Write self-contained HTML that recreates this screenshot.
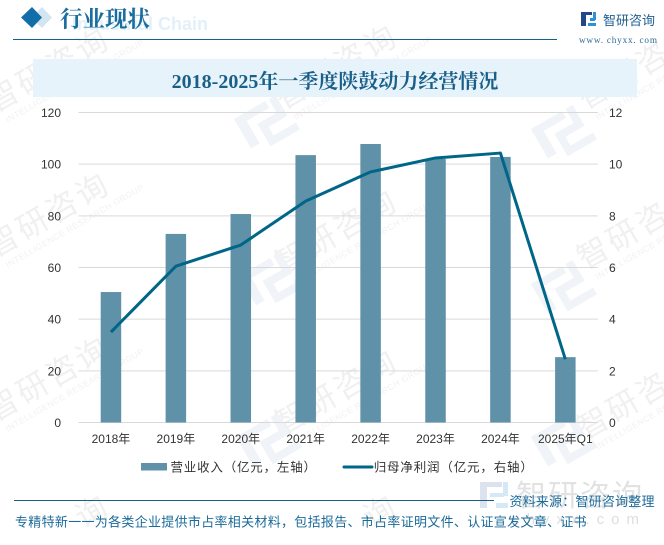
<!DOCTYPE html>
<html lang="zh">
<head>
<meta charset="utf-8">
<title>2018-2025年一季度陕鼓动力经营情况</title>
<style>
html,body{margin:0;padding:0;background:#fff;width:664px;height:545px;overflow:hidden;}
#page{position:relative;width:664px;height:545px;overflow:hidden;background:#fff;}
svg{position:absolute;left:0;top:0;overflow:hidden;}
.cn{font-family:"Liberation Sans","WenQuanYi Zen Hei","Noto Sans CJK SC",sans-serif;}
.serif{font-family:"Liberation Serif","Noto Serif CJK SC",serif;}
.tick{font-family:"Liberation Sans","WenQuanYi Zen Hei","Noto Sans CJK SC",sans-serif;font-size:12px;fill:#333;}
</style>
</head>
<body>
<div id="page">
<svg id="chart" width="664" height="545" viewBox="0 0 664 545">
  <g id="wm"></g>

  <g>
    <polygon points="32,7 42,17.5 32,28 21,17.5" fill="#d3e5f0" transform="translate(10,0)"/>
    <polygon points="32,7 42,17.5 32,28 21,17.5" fill="#126ea8"/>
    <text x="208" y="30" text-anchor="end" font-size="18" font-weight="700" fill="#e2f0fa" font-family="Liberation Sans">Industrial Chain</text>
    <text x="60" y="27" font-size="22.5" font-weight="700" fill="#1a6d9e" class="serif">行业现状</text>
    <rect x="13" y="39" width="544" height="1" fill="#1a5f88"/>
  </g>

  <g>
    <rect x="581" y="12" width="5" height="14" fill="#24478a"/>
    <rect x="581" y="12" width="11" height="3" fill="#24478a"/>
    <rect x="590" y="18" width="5" height="3" fill="#2f8fd8"/>
    <rect x="588" y="23" width="8" height="3" fill="#2f8fd8"/>
    <rect x="593" y="12" width="3" height="8" fill="#2f8fd8"/>
    <text x="603" y="25" font-size="13" fill="#1d5f93" class="cn">智研咨询</text>
    <text x="579" y="43" font-size="9.2" letter-spacing="0.8" fill="#2d6b96" font-family="Liberation Serif">www. chyxx. com</text>
  </g>

  <rect x="33" y="59" width="604" height="38" fill="#e6f3fb"/>
  <text x="335" y="88" text-anchor="middle" font-size="20" font-weight="700" fill="#1a5f88" class="serif">2018-2025年一季度陕鼓动力经营情况</text>

  <g id="grid"></g>
  <g id="bars"></g>
  <g id="line"></g>
  <g id="ylabels"></g>
  <g id="rlabels"></g>
  <g id="xlabels"></g>

  <g>
    <g>
      <rect x="141" y="463" width="26" height="7.5" fill="#5f91a9"/>
      <text x="170.5 183.8 197.1 210.4 223.7 237 250.3 263.6 276.9 290.2 303.5" y="471.5" font-size="12.5" fill="#333" class="cn">营业收入（亿元，左轴）</text>
    </g>
    <g>
      <line x1="344" y1="467" x2="372" y2="467" stroke="#006688" stroke-width="3" stroke-linecap="round"/>
      <text x="373.7 387 400.4 413.7 427 440.4 453.7 467 480.4 493.7 507 520.4" y="471.5" font-size="12.5" fill="#333" class="cn">归母净利润（亿元，右轴）</text>
    </g>
  </g>

  <g>
    <rect x="480" y="482" width="7" height="26" fill="#dce3ee"/>
    <rect x="480" y="482" width="22" height="5" fill="#dce3ee"/>
    <rect x="490" y="493" width="14" height="4" fill="#d5e8f5"/>
    <rect x="496" y="503" width="12" height="5" fill="#d5e8f5"/>
    <rect x="503" y="482" width="5" height="14" fill="#d5e8f5"/>
    <text x="516" y="506" font-size="30" letter-spacing="2" fill="#e2e2e2" class="cn">智研咨询</text>
    <text x="646" y="524" text-anchor="end" font-size="15" letter-spacing="7" fill="#dedede" font-family="Liberation Sans">chyxx.com</text>
  </g>

  <rect x="14" y="500" width="480" height="1" fill="#1a5f88"/>
  <text x="509.5" y="506" font-size="13" letter-spacing="0.2" fill="#1a6a9a" class="cn">资料来源：智研咨询整理</text>
  <text x="15" y="526.5" font-size="13" letter-spacing="0.3" fill="#1a6a9a" class="cn">专精特新一一为各类企业提供市占率相关材料，包括报告、市占率证明文件、认证宣发文章、证书</text>
</svg>
</div>
<script>
const categories = ['2018年','2019年','2020年','2021年','2022年','2023年','2024年','2025年Q1'];
const revenueValues = [50.5, 73, 80.7, 103.5, 107.8, 102, 102.8, 25.3];
const netProfitValues = [3.5, 6.05, 6.87, 8.57, 9.7, 10.24, 10.43, 2.45];
const leftTicks = [0, 20, 40, 60, 80, 100, 120];
const rightTicks = [0, 2, 4, 6, 8, 10, 12];

const NS = 'http://www.w3.org/2000/svg';
const plotLeft = 78.5, plotRight = 597.8, plotTop = 112.5, plotBottom = 422.5;
const leftMax = 120, rightMax = 12, barWidth = 20.5;

function xScale(i) { return plotLeft + (plotRight - plotLeft) * (i + 0.5) / categories.length; }
function yLeft(v) { return plotBottom - (plotBottom - plotTop) * v / leftMax; }
function yRight(v) { return plotBottom - (plotBottom - plotTop) * v / rightMax; }
function make(tag, parent, attrs) {
  const el = document.createElementNS(NS, tag);
  for (const k in attrs) el.setAttribute(k, attrs[k]);
  parent.appendChild(el);
  return el;
}

const gridG = document.getElementById('grid');
const yG = document.getElementById('ylabels');
const rG = document.getElementById('rlabels');
const xG = document.getElementById('xlabels');
const barsG = document.getElementById('bars');
const lineG = document.getElementById('line');
const wmG = document.getElementById('wm');

leftTicks.forEach(function (t) {
  const y = yLeft(t);
  const g = make('line', gridG, {x1: plotLeft, x2: plotRight, y1: y, y2: y, stroke: '#d9d9d9', 'stroke-width': 1});
  
  
  const l = make('text', yG, {x: 61, y: y + 4.5, 'text-anchor': 'end', class: 'tick'});
  l.textContent = t;
  
  
});

rightTicks.forEach(function (t) {
  const l = make('text', rG, {x: 609, y: yRight(t) + 4.5, class: 'tick'});
  l.textContent = t;
  
  
});

categories.forEach(function (c, i) {
  const l = make('text', xG, {x: xScale(i), y: 443, 'text-anchor': 'middle', class: 'tick'});
  l.textContent = c;
  
  
});

revenueValues.forEach(function (v, i) {
  const b = make('rect', barsG, {x: xScale(i) - barWidth / 2, y: yLeft(v), width: barWidth, height: plotBottom - yLeft(v), fill: '#5f91a9'});
  
  
});

const linePts = netProfitValues.map(function (v, i) { return xScale(i) + ',' + yRight(v); }).join(' ');
const profitLine = make('polyline', lineG, {points: linePts, fill: 'none', stroke: '#006688', 'stroke-width': 3, 'stroke-linejoin': 'round'});



/* Background watermark tiles */
[[-5, 113], [-5, 258], [-5, 422], [283, 110], [283, 275], [283, 435], [585, 110], [585, 270], [585, 440]].forEach(function (p) {
  const g = make('g', wmG, {transform: 'translate(' + p[0] + ',' + p[1] + ') rotate(-30)', opacity: 0.45});
  
  
  const t = make('text', g, {x: 0, y: 0, 'font-size': 31, 'letter-spacing': 3, fill: '#e0e0e0', class: 'cn'});
  t.textContent = '智研咨询';
  
  
  const s = make('text', g, {x: 6, y: 15, 'font-size': 8.5, 'letter-spacing': 0.5, fill: '#e0e0e0', 'font-family': 'Liberation Sans'});
  s.textContent = 'INTELLIGENCE RESEARCH GROUP';
  
  
});

/* Bottom-row watermark fragments: only the last glyph shows above the frame edge */
[[83, 529], [371, 529]].forEach(function (p) {
  const t = make('text', wmG, {transform: 'translate(' + p[0] + ',' + p[1] + ') rotate(-30)', 'font-size': 31, fill: '#e0e0e0', opacity: 0.45, class: 'cn'});
  t.textContent = '询';
  
  
});

[[234, 119], [531, 129], [239, 276], [531, 284], [236, 437], [531, 437]].forEach(function (p) {
  const g = make('g', wmG, {transform: 'translate(' + p[0] + ',' + p[1] + ') rotate(-30)', fill: '#f0f4f8'});
  
  
  [[0, 0, 10, 34], [0, 0, 36, 8], [40, 0, 8, 18], [18, 16, 30, 8], [18, 16, 8, 18], [18, 34, 34, 8]].forEach(function (r) {
    const piece = make('rect', g, {x: r[0], y: r[1], width: r[2], height: r[3]});
    
    
  });
});
</script>
</body>
</html>
